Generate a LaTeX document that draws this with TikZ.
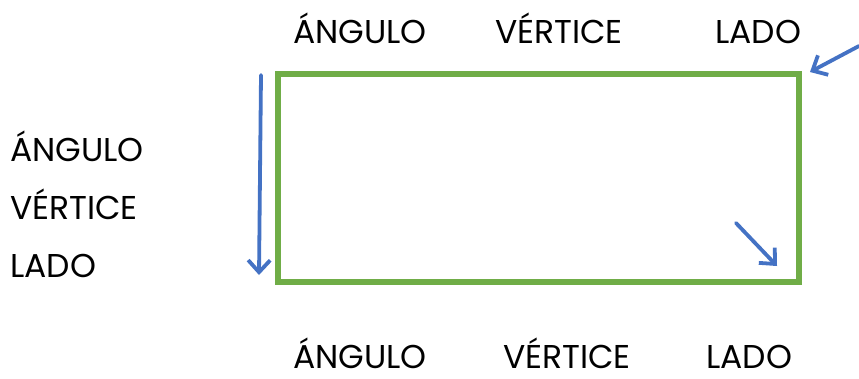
\documentclass[tikz,border=0pt]{standalone}
\usepackage{fontspec}
\setmainfont{Poppins}
\usetikzlibrary{arrows.meta}
\definecolor{gr}{HTML}{70AD47}
\definecolor{bl}{HTML}{4472C4}
\tikzset{
  lbl/.style={anchor=base west, inner sep=0pt, text depth=0pt, font=\fontsize{33}{33}\selectfont},
  arr/.style={draw=bl, line width=3.8pt, line cap=round, -{Straight Barb[length=12pt,width=22pt,line width=3.8pt]}},
  box/.style={draw=gr, line width=5.5pt}
}
\begin{document}
\begin{tikzpicture}[x=1pt,y=-1pt]
\useasboundingbox (0,0) rectangle (859,378);
\draw[box] (278,74) rectangle (799,282);
% top labels
\node[lbl] (ta) at (293,43) {ÁNGULO};
\node[lbl] (tv) at (495,43) {VÉRTICE};
\node[lbl] (tl) at (715,43) {LADO};
% left labels
\node[lbl] (la) at (10,161) {ÁNGULO};
\node[lbl] (lv) at (10,219) {VÉRTICE};
\node[lbl] (ll) at (10,277) {LADO};
% bottom labels
\node[lbl] (ba) at (293,368) {ÁNGULO};
\node[lbl] (bv) at (503,368) {VÉRTICE};
\node[lbl] (bl) at (706,368) {LADO};
% arrows
\coordinate (a1s) at (261,75);
\coordinate (a1e) at (259,275);
\coordinate (a2s) at (859,46);
\coordinate (a2e) at (810,72);
\coordinate (a3s) at (736,223);
\coordinate (a3e) at (777,266);
\draw[arr] (a1s) -- (a1e);
\draw[arr] (a2s) -- (a2e);
\draw[arr] (a3s) -- (a3e);
\end{tikzpicture}
\end{document}
